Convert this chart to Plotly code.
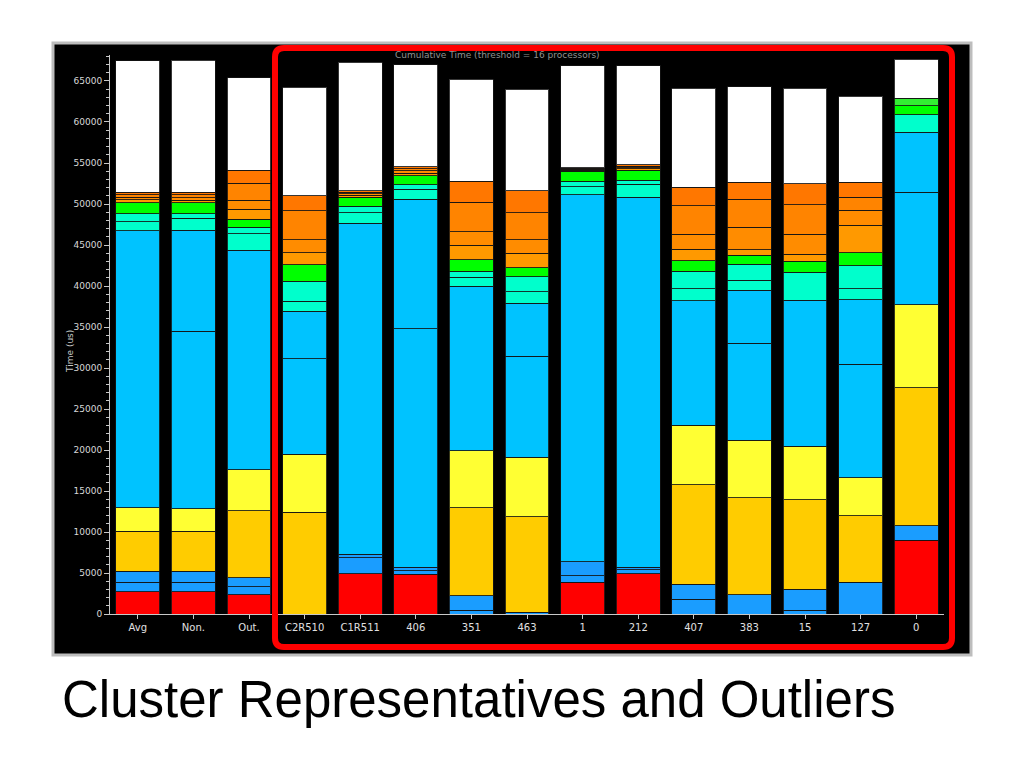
import plotly.graph_objects as go

categories = ["Avg", "Non.", "Out.", "C2R510", "C1R511", "406", "351", "463",
              "1", "212", "407", "383", "15", "127", "0"]

# stacked segment sizes (microseconds), bottom to top
red     = [2730, 2730, 2340, 0, 4930, 4840, 0, 0, 3880, 4930, 0, 0, 0, 0, 9020]
blue_a  = [1150, 1170, 960, 0, 1900, 410, 440, 220, 790, 470, 1770, 2340, 450, 3880, 1760]
blue_b  = [1320, 1340, 1100, 0, 430, 470, 1760, 0, 1710, 320, 1840, 0, 2550, 0, 0]
gold    = [4920, 4880, 8220, 12400, 0, 0, 10780, 11660, 0, 0, 12130, 11830, 10950, 8080, 16840]
yellow  = [2860, 2720, 4980, 7090, 0, 0, 6950, 7250, 0, 0, 7260, 7040, 6500, 4670, 10120]
sky_a   = [33730, 21650, 26730, 11610, 40370, 29040, 20010, 12320, 44730, 45080, 15180, 11780, 17820, 13810, 13720]
sky_b   = [0, 12310, 0, 5850, 0, 15820, 0, 6460, 0, 0, 0, 6510, 0, 7910, 7260]
aqua_a  = [1140, 1490, 2070, 1220, 1320, 1240, 1100, 1370, 1010, 1630, 1490, 1180, 3420, 1320, 2190]
aqua_b  = [970, 530, 750, 2380, 750, 520, 740, 1840, 660, 440, 2110, 1980, 0, 2770, 0]
green   = [1310, 1310, 1010, 2020, 1100, 1100, 1450, 1100, 1230, 1230, 1320, 1110, 1320, 1630, 1100]
green_b = [0, 0, 0, 0, 0, 0, 0, 0, 0, 0, 0, 0, 0, 0, 880]
org_a   = [370, 320, 1230, 1500, 250, 300, 1770, 1770, 110, 170, 1410, 660, 840, 3350, 0]
org_b   = [300, 300, 1060, 1590, 200, 300, 1620, 1620, 110, 160, 1810, 2720, 2470, 1840, 0]
org_c   = [300, 350, 2060, 3510, 200, 250, 3610, 3340, 110, 170, 3470, 3430, 3590, 1540, 0]
org_d   = [360, 310, 1590, 1850, 180, 250, 2550, 2680, 110, 160, 2250, 2070, 2570, 1850, 0]
white   = [15980, 16100, 11300, 13230, 15670, 12450, 12460, 12360, 12400, 12090, 12050, 11650, 11610, 10460, 4760]

layers = [
    ("red", red, "#ff0000"),
    ("blue a", blue_a, "#1a9dff"),
    ("blue b", blue_b, "#1a9dff"),
    ("gold", gold, "#ffcc00"),
    ("yellow", yellow, "#ffff33"),
    ("sky a", sky_a, "#00c3ff"),
    ("sky b", sky_b, "#00c3ff"),
    ("aqua a", aqua_a, "#00ffcc"),
    ("aqua b", aqua_b, "#00ffcc"),
    ("green", green, "#00ff00"),
    ("green b", green_b, "#33ee33"),
    ("orange a", org_a, "#ff9900"),
    ("orange b", org_b, "#ff8c00"),
    ("orange c", org_c, "#ff8400"),
    ("orange d", org_d, "#ff7700"),
    ("white", white, "#ffffff"),
]

fig = go.Figure()
for name, vals, col in layers:
    fig.add_trace(go.Bar(
        x=categories,
        y=[v if v else None for v in vals],
        name=name,
        marker=dict(color=col, line=dict(color="rgba(20,20,20,0.85)", width=1)),
        hoverinfo="x+y+name",
    ))

W, H = 1024, 768
L, R, T, B = 110, 80, 55, 154
pw, ph = W - L - R, H - T - B

def px(x):
    return (x - L) / pw

def py(y):
    return (H - B - y) / ph

# rounded red frame path (paper coords)
x0, x1, y0, y1, r = 275, 952, 48, 647, 9
def pth():
    rx, ry = r / pw, r / ph
    a, b = px(x0), px(x1)
    top, bot = py(y0), py(y1)
    return (f"M {a+rx},{top} L {b-rx},{top} Q {b},{top} {b},{top-ry} "
            f"L {b},{bot+ry} Q {b},{bot} {b-rx},{bot} "
            f"L {a+rx},{bot} Q {a},{bot} {a},{bot+ry} "
            f"L {a},{top-ry} Q {a},{top} {a+rx},{top} Z")

fig.update_layout(
    width=W, height=H,
    barmode="stack",
    bargap=0.21,
    showlegend=False,
    paper_bgcolor="white",
    plot_bgcolor="black",
    margin=dict(l=L, r=R, t=T, b=B, pad=0),
    font=dict(family="DejaVu Sans", size=10, color="#d8d8d8"),
    xaxis=dict(
        type="category",
        showline=True, linecolor="#c8c8c8", linewidth=1,
        ticks="outside", ticklen=4, tickcolor="#c8c8c8",
        tickfont=dict(family="DejaVu Sans", size=10, color="#e0e0e0"),
        showgrid=False, zeroline=False, fixedrange=True,
    ),
    yaxis=dict(
        range=[0, 68170],
        tickmode="linear", tick0=0, dtick=5000, tickformat="d",
        showline=True, linecolor="#c8c8c8", linewidth=1,
        ticks="outside", ticklen=5, tickcolor="#c8c8c8",
        minor=dict(dtick=1000, ticks="outside", ticklen=3, tickcolor="#c8c8c8"),
        tickfont=dict(family="DejaVu Sans", size=9, color="#d8d8d8"),
        showgrid=False, zeroline=False,
    ),
    shapes=[
        dict(type="rect", xref="paper", yref="paper", layer="below",
             x0=px(53), x1=px(971), y0=py(655), y1=py(43),
             fillcolor="black", line=dict(color="#bdbdbd", width=3)),
        dict(type="path", xref="paper", yref="paper", layer="above",
             path=pth(), line=dict(color="#ff0000", width=6)),
    ],
    annotations=[
        dict(text="Time (us)", xref="paper", yref="paper", x=px(63), y=py(352),
             showarrow=False, textangle=-90,
             font=dict(family="DejaVu Sans", size=9, color="#c8c8c8")),
        dict(text="Cumulative Time (threshold = 16 processors)", xref="paper", yref="paper",
             x=px(497), y=py(55), yanchor="middle", showarrow=False,
             font=dict(family="DejaVu Sans", size=9, color="#909090")),
        dict(text="Cluster Representatives and Outliers", xref="paper", yref="paper",
             x=px(60), y=py(700), xanchor="left", yanchor="middle", showarrow=False,
             font=dict(family="Liberation Sans, Arial", size=51, color="black")),
    ],
)

fig.write_html("out.html", config={"displayModeBar": False},
               post_script="document.body.style.margin='0';document.body.style.padding='0';")
